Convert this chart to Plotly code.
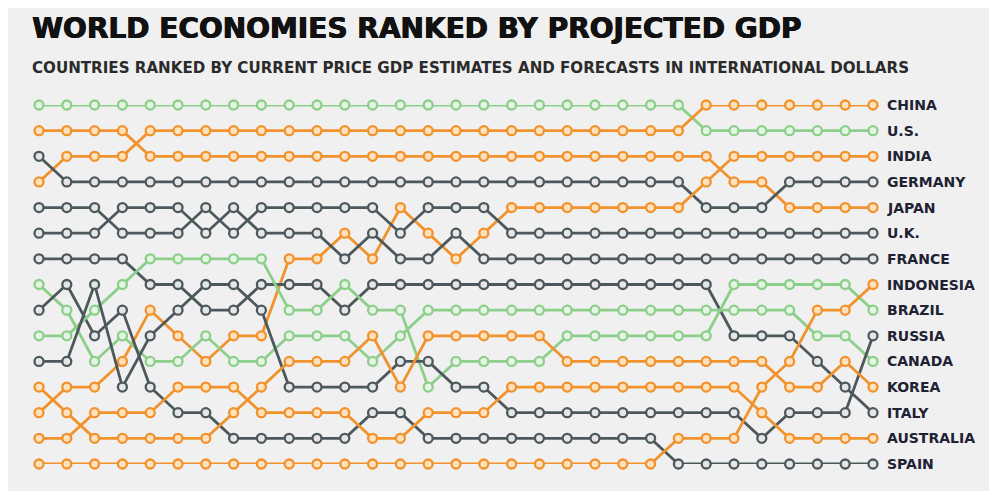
import plotly.graph_objects as go

periods = list(range(31))

rank_us = [1]*24 + [2]*7
rank_china = [4, 3, 3, 3] + [2]*20 + [1]*7
rank_japan = [2]*4 + [3]*21 + [4, 4] + [5]*4
rank_germany = [3] + [4]*23 + [5, 5, 5] + [4]*4
rank_india = [13, 12, 12, 11, 9, 10, 11, 10, 10, 7, 7, 6, 7, 5, 6, 7, 6] + [5]*7 + [4] + [3]*6
rank_uk = [5, 5, 5, 6, 6, 6, 5, 6, 5, 5, 5, 5, 5, 6, 5, 5, 5] + [6]*14
rank_france = [6, 6, 6, 5, 5, 5, 6, 5, 6, 6, 6, 7, 6, 7, 7, 6, 7] + [7]*14
rank_italy = [7, 7, 7, 7, 8, 8, 9, 9, 8, 8, 8, 9, 8, 8, 8, 8, 8] + [8]*8 + [10, 10, 10, 11, 12, 13]
rank_canada = [8, 9, 11, 10, 11, 11, 10, 11, 11, 10, 10, 10, 11, 10] + [9]*14 + [10, 10, 11]
rank_spain = [9, 8, 10, 9, 12, 13, 13, 14, 14, 14, 14, 14, 13, 13] + [14]*9 + [15]*8
rank_brazil = [10, 10, 9, 8, 7, 7, 7, 7, 7, 9, 9, 8, 9, 9, 12, 11, 11, 11, 11] + [10]*6 + [8]*5 + [9]
rank_russia = [11, 11, 8, 12, 10, 9, 8, 8, 9, 12, 12, 12, 12, 11, 11, 12, 12] + [13]*9 + [14, 13, 13, 13, 10]
rank_korea = [12, 13, 14, 14, 14, 14, 14, 13, 12, 11, 11, 11, 10, 12, 10, 10, 10, 10, 10] + [11]*8 + [12, 12, 11, 12]
rank_australia = [14, 14, 13, 13, 13, 12, 12, 12, 13, 13, 13, 13, 14, 14, 13, 13, 13] + [12]*9 + [13] + [14]*4
rank_indonesia = [15]*23 + [14, 14, 14, 12, 11, 9, 9, 8]

GREEN = "#8ccf8a"
ORANGE = "#f1922c"
GRAY = "#4d585d"
FILL = {GREEN: "#e6f4e5", ORANGE: "#fde2bd", GRAY: "#e4e6e7"}

series = [
    ("U.S.", rank_us, GREEN),
    ("CHINA", rank_china, ORANGE),
    ("JAPAN", rank_japan, ORANGE),
    ("GERMANY", rank_germany, GRAY),
    ("INDIA", rank_india, ORANGE),
    ("U.K.", rank_uk, GRAY),
    ("FRANCE", rank_france, GRAY),
    ("ITALY", rank_italy, GRAY),
    ("CANADA", rank_canada, GREEN),
    ("SPAIN", rank_spain, GRAY),
    ("BRAZIL", rank_brazil, GREEN),
    ("RUSSIA", rank_russia, GRAY),
    ("KOREA", rank_korea, ORANGE),
    ("AUSTRALIA", rank_australia, ORANGE),
    ("INDONESIA", rank_indonesia, ORANGE),
]

fig = go.Figure()
for name, ranks, col in series:
    fig.add_trace(go.Scatter(
        x=periods, y=ranks, mode="lines+markers", name=name,
        line=dict(color=col, width=2.8),
        marker=dict(symbol="circle", size=9, color=FILL[col],
                    line=dict(color=col, width=2.3)),
        cliponaxis=False, hoverinfo="skip", showlegend=False,
    ))

LABEL_FONT = dict(family="DejaVu Sans", size=14, color="#1e2233", weight="bold")
for name, ranks, col in series:
    fig.add_annotation(x=periods[-1], y=ranks[-1], xref="x", yref="y",
                       text=name, showarrow=False, xanchor="left", yanchor="middle",
                       xshift=12, font=LABEL_FONT)

fig.add_annotation(xref="paper", yref="paper", x=-0.0105, y=1.212, xanchor="left", yanchor="middle",
                   text="WORLD ECONOMIES RANKED BY PROJECTED GDP", showarrow=False,
                   font=dict(family="DejaVu Sans", size=28, color="#111111", weight="bold",
                             shadow="0.7px 0 0 #111111, -0.3px 0 0 #111111"))
fig.add_annotation(xref="paper", yref="paper", x=-0.0105, y=1.104, xanchor="left", yanchor="middle",
                   text="COUNTRIES RANKED BY CURRENT PRICE GDP ESTIMATES AND FORECASTS IN INTERNATIONAL DOLLARS",
                   showarrow=False,
                   font=dict(family="DejaVu Sans", size=15.1, color="#2b2b2b", weight="bold"))

fig.update_layout(
    width=981, height=483,
    margin=dict(l=31, r=116, t=97, b=27),
    paper_bgcolor="#f0f0f0", plot_bgcolor="#f0f0f0",
    xaxis=dict(range=[0, 30], visible=False, fixedrange=True),
    yaxis=dict(range=[15, 1], visible=False, fixedrange=True),
)

fig.write_html("out.html")
